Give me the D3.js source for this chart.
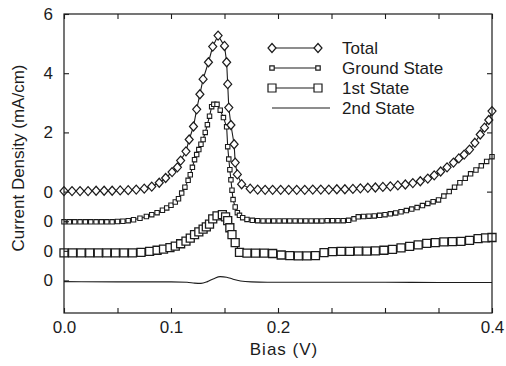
<!DOCTYPE html>
<html>
<head>
<meta charset="utf-8">
<script src="https://cdn.jsdelivr.net/npm/d3@7"></script>
<style>
  html, body { margin: 0; padding: 0; background: #fff; }
  svg { display: block; font-family: "Liberation Sans", Arial, sans-serif; }
</style>
</head>
<body>
<div id="chart"></div>
<script>
// series data (bias in V, current density in mA/cm, each curve offset for display)
const totalBias = [0.000,0.0075,0.015,0.0225,0.030,0.0375,0.045,0.0525,0.060,0.0675,0.075,0.082,0.089,0.095,0.101,0.106,0.109,0.114,0.117,0.121,0.124,0.127,0.130,0.135,0.139,0.144,0.150,0.152,0.153,0.154,0.156,0.159,0.160,0.162,0.166,0.174,0.181,0.188,0.195,0.2025,0.210,0.2175,0.225,0.2325,0.240,0.2475,0.255,0.2625,0.270,0.277,0.284,0.291,0.298,0.305,0.312,0.319,0.326,0.333,0.340,0.346,0.352,0.358,0.364,0.369,0.374,0.379,0.384,0.389,0.393,0.397,0.400];
const totalCurrent = [0.02,0.02,0.02,0.02,0.03,0.03,0.03,0.04,0.05,0.07,0.10,0.17,0.30,0.46,0.66,0.82,1.05,1.36,1.76,2.20,2.78,3.29,3.80,4.37,4.90,5.27,4.92,4.37,3.63,2.84,2.25,1.60,0.98,0.58,0.25,0.10,0.07,0.06,0.06,0.06,0.06,0.06,0.06,0.07,0.07,0.07,0.08,0.08,0.09,0.11,0.13,0.14,0.16,0.18,0.21,0.24,0.29,0.35,0.44,0.55,0.68,0.82,0.98,1.12,1.25,1.42,1.65,1.93,2.16,2.42,2.72];

const groundBias = [0.000,0.005,0.010,0.015,0.020,0.025,0.030,0.035,0.040,0.045,0.050,0.055,0.060,
  0.065,0.071,0.077,0.082,0.087,0.092,0.096,0.100,0.104,0.107,0.110,0.113,0.116,0.118,0.120,0.122,0.124,0.126,0.128,0.130,0.132,0.134,0.136,0.138,0.140,0.143,0.146,0.149,0.152,0.153,0.154,0.155,0.156,0.157,0.158,0.160,0.162,0.164,0.167,0.171,0.176,
  0.181,0.186,0.191,0.196,0.201,0.206,0.211,0.216,0.221,0.226,0.231,0.236,0.241,0.246,0.251,0.256,0.261,0.266,
  0.271,0.275,0.280,0.285,0.290,0.295,0.300,0.305,0.310,0.315,0.320,0.325,0.330,0.335,0.340,0.345,0.350,0.355,0.360,0.365,0.370,0.375,0.380,0.385,0.390,0.395,0.400];
const groundCurrent = [-0.02,-0.02,-0.02,-0.02,-0.02,-0.02,-0.02,-0.02,-0.02,-0.02,-0.01,0.00,0.02,
  0.05,0.10,0.16,0.22,0.29,0.37,0.45,0.54,0.65,0.76,0.95,1.15,1.38,1.57,1.82,2.08,2.25,2.42,2.60,2.76,3.00,3.26,3.55,3.87,3.95,3.95,3.75,3.50,3.19,2.52,2.10,1.74,1.40,1.05,0.73,0.48,0.29,0.20,0.12,0.06,0.03,
  0.02,0.01,0.01,0.01,0.01,0.01,0.01,0.01,0.01,0.01,0.01,0.01,0.01,0.02,0.02,0.02,0.02,0.03,
  0.08,0.15,0.16,0.17,0.18,0.20,0.22,0.25,0.28,0.32,0.36,0.41,0.46,0.53,0.60,0.66,0.72,0.85,1.00,1.15,1.30,1.45,1.60,1.73,1.87,2.02,2.18];

const firstBias = [0.000,0.008,0.016,0.024,0.032,0.040,0.048,0.056,0.064,0.072,
  0.080,0.087,0.093,0.099,0.104,0.109,0.114,0.118,0.122,0.126,0.130,0.133,0.136,0.139,0.143,0.148,0.151,0.153,0.155,0.157,0.160,0.164,
  0.171,0.179,0.187,0.195,0.203,0.211,0.219,0.227,0.235,0.243,0.251,0.259,0.267,0.275,0.283,0.291,0.299,0.307,0.315,0.323,0.331,0.339,0.347,0.355,0.363,0.371,0.379,0.387,0.394,0.400];
const firstCurrent = [-0.07,-0.07,-0.07,-0.07,-0.07,-0.07,-0.07,-0.07,-0.07,-0.05,
  -0.02,0.02,0.06,0.11,0.16,0.24,0.33,0.43,0.55,0.64,0.73,0.81,0.90,1.08,1.18,1.22,1.15,1.02,0.78,0.55,0.28,-0.05,
  -0.08,-0.08,-0.08,-0.09,-0.14,-0.16,-0.17,-0.17,-0.16,-0.06,-0.03,-0.02,-0.02,-0.01,-0.01,0.00,0.02,0.05,0.10,0.15,0.20,0.25,0.28,0.30,0.31,0.32,0.35,0.41,0.44,0.45];

const secondBias = [0.000,0.050,0.100,0.115,0.122,0.128,0.134,0.140,0.146,0.152,0.158,0.165,0.175,0.190,0.250,0.300,0.350,0.400];
const secondCurrent = [-0.04,-0.05,-0.05,-0.06,-0.09,-0.10,-0.04,0.06,0.13,0.11,0.04,-0.02,-0.05,-0.06,-0.06,-0.06,-0.07,-0.07];

const seriesNames = ["Total", "Ground State", "1st State", "2nd State"];
const seriesOffsets = [0, -1, -2, -3];

// axis ticks
const xTickValues = [0, 0.05, 0.1, 0.15, 0.2, 0.25, 0.3, 0.35, 0.4];
const xTickLabels = ["0.0", "", "0.1", "", "0.2", "", "", "", "0.4"];
const yTickValues = [6, 4, 2, 0, -1, -2, -3];
const yTickLabels = ["6", "4", "2", "0", "0", "0", "0"];
const yRightTicks = [4, 2, 0];

const W = 506, H = 366;
const plot = { left: 64, right: 492, top: 14, bottom: 313 };
const ink = "#1c1c1c";

const svg = d3.select("#chart")
  .append("svg")
  .attr("width", W)
  .attr("height", H);

const x = d3.scaleLinear().domain([0, 0.4]).range([plot.left, plot.right]);
const y = d3.scaleLinear().domain([-4.1, 6]).range([plot.bottom, plot.top]);

// marker shapes
const diamond = "M0,-4.5L4,0L0,4.5L-4,0Z";
const smallSquare = "M-2.2,-2.2H2.2V2.2H-2.2Z";
const bigSquare = "M-4,-4H4V4H-4Z";

const series = [
  { bias: secondBias, current: secondCurrent, offset: seriesOffsets[3], marker: null },
  { bias: firstBias, current: firstCurrent, offset: seriesOffsets[2], marker: bigSquare, sw: 1.3 },
  { bias: groundBias, current: groundCurrent, offset: seriesOffsets[1], marker: smallSquare, sw: 1.1 },
  { bias: totalBias, current: totalCurrent, offset: seriesOffsets[0], marker: diamond, sw: 1.2 }
];

const line = d3.line()
  .x(d => x(d[0]))
  .y(d => y(d[1]));

series.forEach(s => {
  const pts = s.bias.map((b, i) => [b, s.current[i] + s.offset]);

  svg.append("path")
    .datum(pts)
    .attr("fill", "none")
    .attr("stroke", ink)
    .attr("stroke-width", 1.1)
    .attr("d", s.marker ? line : line.curve(d3.curveMonotoneX));
  line.curve(d3.curveLinear);

  if (s.marker) {
    svg.append("g")
      .selectAll("path")
      .data(pts)
      .enter()
      .append("path")
      .attr("transform", d => "translate(" + x(d[0]) + "," + y(d[1]) + ")")
      .attr("d", s.marker)
      .attr("fill", "#fff")
      .attr("stroke", ink)
      .attr("stroke-width", s.sw);
  }
});

// frame
svg.append("rect")
  .attr("x", plot.left)
  .attr("y", plot.top)
  .attr("width", plot.right - plot.left)
  .attr("height", plot.bottom - plot.top)
  .attr("fill", "none")
  .attr("stroke", ink)
  .attr("stroke-width", 1.2);

// axes, ticks pointing inwards
const styleAxis = g => {
  g.select(".domain").remove();
  g.selectAll("line").attr("stroke", ink).attr("stroke-width", 1.1);
  g.selectAll("text").attr("fill", ink).style("font-size", "17px");
};

svg.append("g")
  .attr("transform", "translate(0," + plot.bottom + ")")
  .call(d3.axisBottom(x).tickValues(xTickValues).tickSize(-5).tickSizeOuter(0).tickPadding(8)
    .tickFormat((d, i) => xTickLabels[i]))
  .call(styleAxis);

svg.append("g")
  .attr("transform", "translate(0," + plot.top + ")")
  .call(d3.axisTop(x).tickValues(xTickValues).tickSize(-5).tickSizeOuter(0).tickFormat(""))
  .call(styleAxis);

svg.append("g")
  .attr("transform", "translate(" + plot.left + ",0)")
  .call(d3.axisLeft(y).tickValues(yTickValues).tickSize(-5).tickSizeOuter(0).tickPadding(11)
    .tickFormat((d, i) => yTickLabels[i]))
  .call(styleAxis);

svg.append("g")
  .attr("transform", "translate(" + plot.right + ",0)")
  .call(d3.axisRight(y).tickValues(yRightTicks).tickSize(-5).tickSizeOuter(0).tickFormat(""))
  .call(styleAxis);

// axis titles
svg.append("text")
  .attr("x", 284)
  .attr("y", 355)
  .attr("text-anchor", "middle")
  .attr("fill", ink)
  .style("font-size", "17px")
  .style("letter-spacing", "1px")
  .text("Bias (V)");

svg.append("text")
  .attr("transform", "translate(24,158)rotate(-90)")
  .attr("text-anchor", "middle")
  .attr("fill", ink)
  .style("font-size", "17px")
  .text("Current Density (mA/cm)");

// legend
const legendMarkers = [diamond, smallSquare, bigSquare, null];
const legend = svg.append("g").attr("transform", "translate(272,48)");

seriesNames.forEach((name, i) => {
  const row = legend.append("g").attr("transform", "translate(0," + (i * 20) + ")");
  row.append("line")
    .attr("x1", 0).attr("x2", legendMarkers[i] ? 46 : 58)
    .attr("stroke", ink)
    .attr("stroke-width", 1.1);
  if (legendMarkers[i]) {
    [0, 46].forEach(mx => {
      row.append("path")
        .attr("transform", "translate(" + mx + ",0)")
        .attr("d", legendMarkers[i])
        .attr("fill", "#fff")
        .attr("stroke", ink)
        .attr("stroke-width", 1.2);
    });
  }
  row.append("text")
    .attr("x", 70)
    .attr("y", 6)
    .attr("fill", ink)
    .style("font-size", "17px")
    .text(name);
});
</script>
</body>
</html>
